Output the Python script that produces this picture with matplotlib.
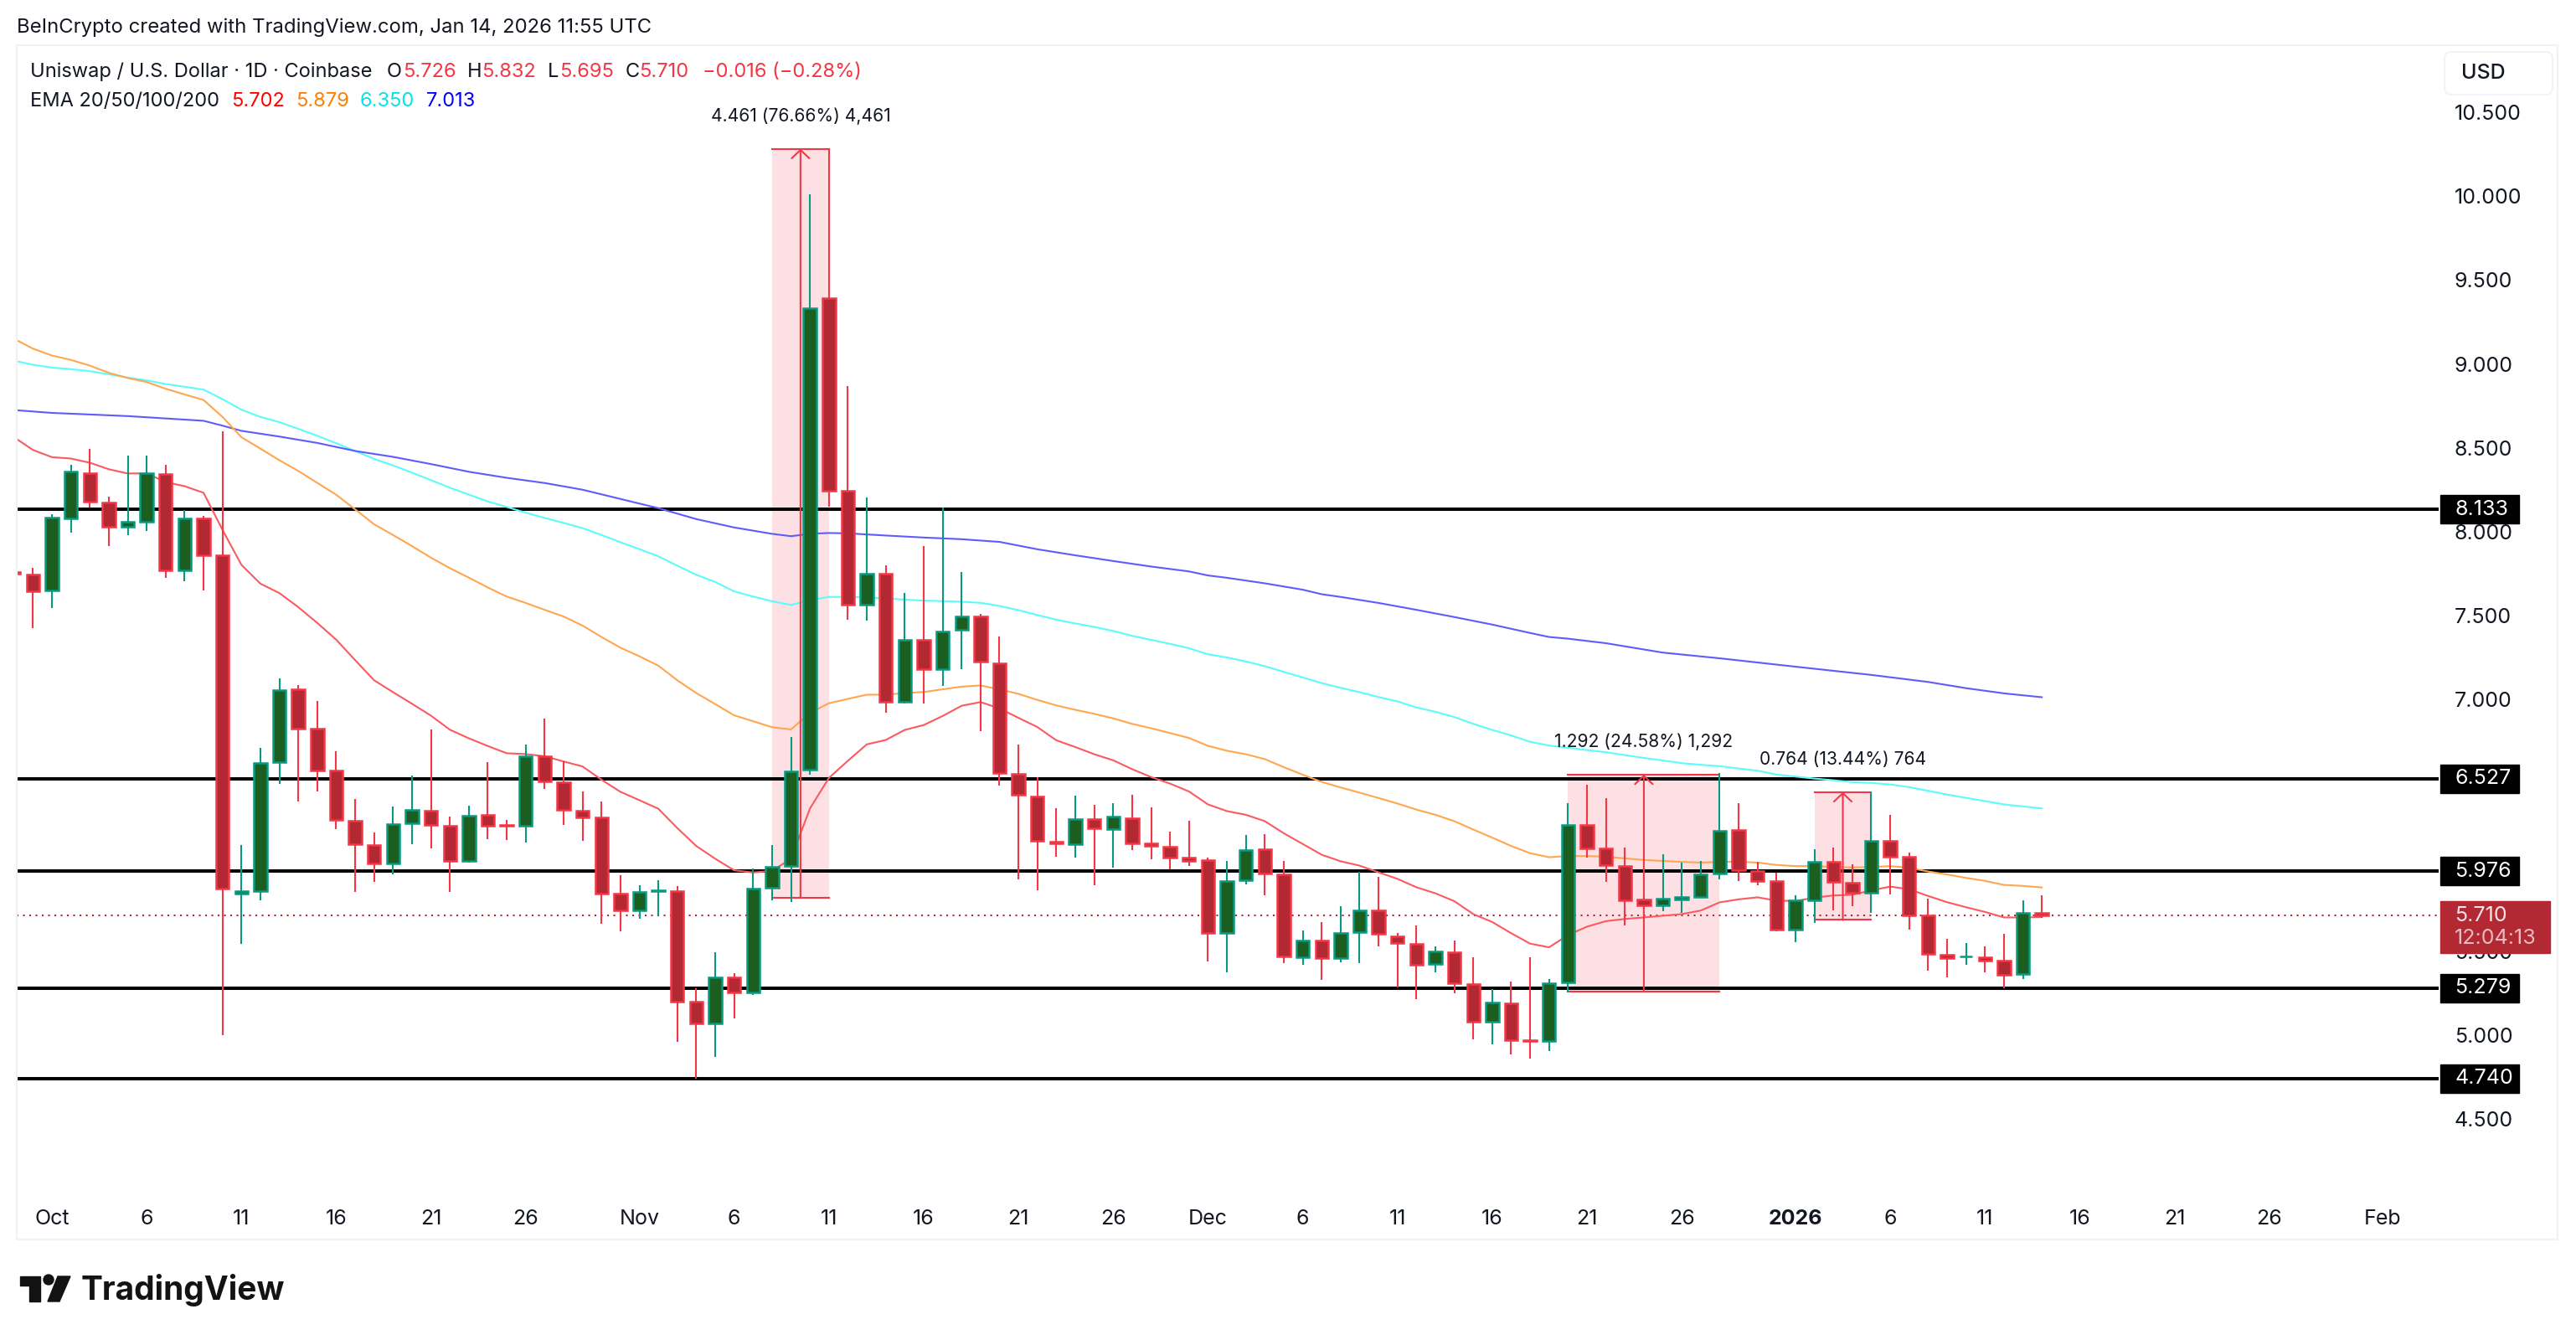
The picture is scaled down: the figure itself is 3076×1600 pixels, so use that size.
import matplotlib
matplotlib.use('Agg')
import matplotlib.pyplot as plt
from matplotlib.patches import Rectangle, Polygon, Circle, FancyBboxPatch

plt.rcParams['font.family'] = ['Inter', 'DejaVu Sans']

W, H = 3076, 1600

# daily candles, day 0 = Oct 1 2025
days = list(range(-2, 106))
opens = [7.760, 7.743, 7.649, 8.080, 8.350, 8.174, 8.029, 8.059, 8.342, 7.769,
         8.077, 7.860, 5.843, 5.859, 6.625, 7.058, 6.824, 6.574, 6.274, 6.134,
         6.024, 6.261, 6.335, 6.248, 6.037, 6.309, 6.253, 6.246, 6.661, 6.508,
         6.335, 6.294, 5.841, 5.744, 5.859, 5.856, 5.196, 5.069, 5.342, 5.255,
         5.876, 6.006, 6.579, 9.391, 8.245, 7.567, 7.748, 6.987, 7.353, 7.178,
         7.417, 7.493, 7.213, 6.557, 6.420, 6.153, 6.137, 6.288, 6.226, 6.291,
         6.140, 6.121, 6.057, 6.040, 5.608, 5.921, 6.105, 5.957, 5.463, 5.563,
         5.458, 5.613, 5.742, 5.589, 5.544, 5.422, 5.494, 5.303, 5.076, 5.188,
         4.969, 4.961, 5.312, 6.254, 6.114, 6.009, 5.805, 5.771, 5.806, 5.823,
         5.961, 6.224, 5.979, 5.916, 5.628, 5.801, 6.034, 5.909, 5.846, 6.159,
         6.064, 5.710, 5.480, 5.467, 5.462, 5.442, 5.362, 5.726]
closes = [7.750, 7.644, 8.082, 8.357, 8.179, 8.029, 8.057, 8.347, 7.769, 8.077,
          7.858, 5.871, 5.859, 6.620, 7.053, 6.826, 6.577, 6.281, 6.136, 6.024,
          6.258, 6.340, 6.251, 6.037, 6.307, 6.246, 6.248, 6.661, 6.511, 6.343,
          6.297, 5.843, 5.744, 5.853, 5.861, 5.199, 5.069, 5.344, 5.252, 5.871,
          6.001, 6.572, 9.333, 8.244, 7.567, 7.748, 6.987, 7.353, 7.178, 7.404,
          7.493, 7.223, 6.563, 6.430, 6.159, 6.143, 6.287, 6.231, 6.303, 6.140,
          6.126, 6.059, 6.038, 5.608, 5.918, 6.102, 5.961, 5.467, 5.563, 5.458,
          5.608, 5.742, 5.603, 5.549, 5.420, 5.498, 5.307, 5.076, 5.193, 4.966,
          4.961, 5.310, 6.254, 6.111, 6.011, 5.801, 5.771, 5.810, 5.821, 5.959,
          6.219, 5.983, 5.916, 5.628, 5.800, 6.034, 5.911, 5.848, 6.159, 6.064,
          5.711, 5.483, 5.457, 5.470, 5.442, 5.357, 5.725, 5.710]
highs = [7.765, 7.782, 8.103, 8.398, 8.495, 8.209, 8.454, 8.454, 8.398, 8.130,
         8.092, 8.597, 6.131, 6.712, 7.124, 7.086, 6.989, 6.691, 6.406, 6.207,
         6.360, 6.546, 6.821, 6.299, 6.365, 6.625, 6.281, 6.732, 6.885, 6.630,
         6.452, 6.393, 5.953, 5.892, 5.922, 5.887, 5.280, 5.492, 5.367, 5.994,
         6.134, 6.778, 10.012, 10.28, 8.869, 8.203, 7.799, 7.637, 7.914, 8.146,
         7.761, 7.512, 7.375, 6.732, 6.538, 6.353, 6.427, 6.372, 6.381, 6.432,
         6.355, 6.212, 6.276, 6.055, 6.038, 6.191, 6.198, 6.038, 5.622, 5.673,
         5.768, 5.971, 5.942, 5.606, 5.654, 5.527, 5.563, 5.463, 5.272, 5.319,
         5.463, 5.334, 6.382, 6.492, 6.412, 6.116, 5.828, 6.077, 6.027, 6.037,
         6.560, 6.382, 6.032, 5.968, 5.831, 6.107, 6.116, 6.016, 6.448, 6.312,
         6.087, 5.813, 5.573, 5.548, 5.528, 5.602, 5.803, 5.832]
lows = [7.745, 7.425, 7.547, 7.995, 8.143, 7.914, 7.978, 8.006, 7.723, 7.703,
        7.649, 5.000, 5.545, 5.800, 6.498, 6.393, 6.449, 6.225, 5.851, 5.910,
        5.955, 6.139, 6.113, 5.851, 6.027, 6.167, 6.162, 6.146, 6.467, 6.251,
        6.157, 5.662, 5.617, 5.690, 5.713, 4.959, 4.738, 4.870, 5.100, 5.240,
        5.803, 5.792, 6.550, 8.149, 7.477, 7.468, 6.923, 6.974, 6.974, 7.079,
        7.178, 6.812, 6.484, 5.927, 5.860, 6.060, 6.057, 5.890, 5.995, 6.100,
        6.047, 5.988, 6.007, 5.439, 5.372, 5.899, 5.833, 5.429, 5.420, 5.327,
        5.432, 5.427, 5.529, 5.284, 5.212, 5.374, 5.250, 4.971, 4.942, 4.883,
        4.856, 4.902, 5.255, 6.057, 5.914, 5.653, 5.753, 5.738, 5.728, 5.819,
        5.928, 5.918, 5.894, 5.615, 5.553, 5.665, 5.743, 5.768, 5.728, 5.838,
        5.628, 5.384, 5.345, 5.418, 5.374, 5.279, 5.334, 5.695]

ema20 = [8.563, 8.487, 8.444, 8.436, 8.411, 8.372, 8.347, 8.347, 8.296, 8.271,
         8.232, 8.011, 7.802, 7.690, 7.634, 7.550, 7.456, 7.356, 7.234, 7.114,
         7.043, 6.974, 6.903, 6.819, 6.768, 6.722, 6.679, 6.674, 6.661, 6.630,
         6.600, 6.521, 6.449, 6.399, 6.348, 6.233, 6.126, 6.050, 5.981, 5.968,
         5.978, 6.050, 6.350, 6.532, 6.634, 6.732, 6.758, 6.818, 6.847, 6.901,
         6.962, 6.984, 6.946, 6.890, 6.835, 6.756, 6.716, 6.673, 6.637, 6.584,
         6.537, 6.498, 6.451, 6.374, 6.334, 6.312, 6.274, 6.202, 6.138, 6.074,
         6.035, 6.009, 5.969, 5.930, 5.880, 5.844, 5.797, 5.720, 5.673, 5.606,
         5.544, 5.522, 5.595, 5.645, 5.678, 5.691, 5.700, 5.710, 5.720, 5.741,
         5.790, 5.808, 5.820, 5.800, 5.798, 5.818, 5.831, 5.835, 5.861, 5.884,
         5.868, 5.828, 5.791, 5.761, 5.733, 5.700, 5.700, 5.702]
ema50 = [9.150, 9.091, 9.050, 9.024, 8.990, 8.947, 8.916, 8.892, 8.852, 8.818,
         8.785, 8.684, 8.563, 8.495, 8.426, 8.362, 8.291, 8.220, 8.133, 8.044,
         7.980, 7.914, 7.845, 7.782, 7.726, 7.667, 7.613, 7.575, 7.534, 7.494,
         7.440, 7.372, 7.308, 7.257, 7.201, 7.114, 7.038, 6.972, 6.905, 6.870,
         6.834, 6.821, 6.920, 6.977, 7.003, 7.028, 7.028, 7.038, 7.044, 7.060,
         7.076, 7.083, 7.060, 7.033, 6.997, 6.964, 6.938, 6.914, 6.887, 6.854,
         6.828, 6.799, 6.770, 6.723, 6.694, 6.673, 6.644, 6.596, 6.551, 6.508,
         6.475, 6.444, 6.412, 6.379, 6.343, 6.312, 6.274, 6.224, 6.176, 6.126,
         6.083, 6.059, 6.066, 6.066, 6.062, 6.052, 6.043, 6.037, 6.031, 6.027,
         6.031, 6.032, 6.027, 6.013, 6.006, 6.006, 6.001, 5.998, 6.001, 6.006,
         5.996, 5.974, 5.956, 5.936, 5.918, 5.894, 5.888, 5.879]
ema100 = [9.019, 8.995, 8.978, 8.969, 8.957, 8.938, 8.919, 8.902, 8.880, 8.864,
          8.847, 8.790, 8.727, 8.684, 8.653, 8.613, 8.572, 8.527, 8.481, 8.434,
          8.395, 8.352, 8.307, 8.262, 8.221, 8.180, 8.147, 8.113, 8.082, 8.052,
          8.021, 7.980, 7.937, 7.896, 7.853, 7.797, 7.743, 7.700, 7.644, 7.613,
          7.585, 7.563, 7.592, 7.611, 7.611, 7.608, 7.602, 7.595, 7.589, 7.586,
          7.582, 7.576, 7.557, 7.532, 7.503, 7.475, 7.453, 7.432, 7.408, 7.379,
          7.355, 7.331, 7.305, 7.269, 7.250, 7.226, 7.198, 7.164, 7.131, 7.097,
          7.069, 7.043, 7.014, 6.988, 6.952, 6.926, 6.895, 6.854, 6.818, 6.785,
          6.747, 6.725, 6.711, 6.698, 6.685, 6.668, 6.651, 6.636, 6.620, 6.610,
          6.602, 6.588, 6.575, 6.552, 6.540, 6.528, 6.518, 6.507, 6.502, 6.493,
          6.477, 6.455, 6.433, 6.413, 6.394, 6.374, 6.362, 6.350]
ema200_days = [-2, 0, 4, 8, 9, 10, 11, 12, 14, 16, 18, 20, 22, 24, 26, 28, 30, 32, 34, 36,
               38, 39, 40, 41, 42, 44, 46, 48, 50, 52, 54, 56, 58, 60, 61, 62, 64, 66, 67, 68,
               70, 72, 74, 76, 78, 79, 80, 82, 85, 88, 92, 96, 99, 101, 103, 105]
ema200 = [8.725, 8.708, 8.689, 8.661, 8.632, 8.601, 8.584, 8.567, 8.529, 8.481,
          8.446, 8.403, 8.357, 8.321, 8.290, 8.250, 8.195, 8.140, 8.075, 8.025,
          7.987, 7.973, 7.987, 7.992, 7.990, 7.977, 7.965, 7.955, 7.939, 7.895,
          7.859, 7.825, 7.792, 7.763, 7.739, 7.725, 7.692, 7.654, 7.627, 7.611,
          7.575, 7.534, 7.491, 7.446, 7.396, 7.372, 7.362, 7.335, 7.279, 7.245,
          7.195, 7.146, 7.104, 7.067, 7.036, 7.013]

levels = [8.133, 6.527, 5.976, 5.279, 4.740]
last_price = 5.710

# measure tools: left day, right day, low, high, label
measures = [(38, 41, 5.818, 10.283, '4.461 (76.66%) 4,461'),
            (80, 88, 5.259, 6.552, '1.292 (24.58%) 1,292'),
            (93, 96, 5.685, 6.448, '0.764 (13.44%) 764')]

# 6.000 and 6.500 sit fully behind the level boxes
price_ticks = [4.5, 5.0, 5.5, 7.0, 7.5, 8.0, 8.5, 9.0, 9.5, 10.0, 10.5]
time_ticks = [0, 5, 10, 15, 20, 25, 31, 36, 41, 46, 51, 56, 61, 66, 71, 76, 81, 86, 92, 97, 102, 107, 112, 117, 123]
time_labels = ['Oct', '6', '11', '16', '21', '26', 'Nov', '6', '11', '16', '21', '26', 'Dec',
               '6', '11', '16', '21', '26', '2026', '6', '11', '16', '21', '26', 'Feb']

UP_EDGE = '#089981'
UP_FILL = '#1b5e20'
DOWN_EDGE = '#f23645'
DOWN_FILL = '#b22833'
TEXT = '#131722'
AXIS_SIZE = 18


def fx(x):
    return x / W


def fy(y):
    return 1 - y / H


fig = plt.figure(figsize=(W / 100, H / 100), dpi=100, facecolor='white')
ax = fig.add_axes([fx(20), fy(1480), fx(2892), 1426 / H])
ax.set_xlim(-1.856, 125.94)
ax.set_ylim(3.780, 10.900)
for s in ax.spines.values():
    s.set_visible(False)

# pane frame
fig.add_artist(Rectangle((fx(20), fy(1480)), fx(3034), 1426 / H, transform=fig.transFigure,
                         fill=False, ec='#f1f2f4', lw=1.6))

# measure fills
for left, right, low, high, label in measures:
    ax.fill_between([left, right], low, high, color='#fde0e3', lw=0, zorder=1)

for lv in levels:
    ax.axhline(lv, color='black', lw=2.9, zorder=2)

ax.axhline(last_price, color=DOWN_FILL, lw=1.5, ls=(0, (1, 2.6)), zorder=2.2)

ax.plot(days, ema100, color='#5dfbfb', lw=1.5, zorder=3)
ax.plot(ema200_days, ema200, color='#5f5cfb', lw=1.5, zorder=3)
ax.plot(days, ema50, color='#ffa64f', lw=1.5, zorder=3)
ax.plot(days, ema20, color='#fb5a60', lw=1.5, zorder=3)

# measure lines and arrows
for left, right, low, high, label in measures:
    mid = (left + right) / 2
    ax.plot([left, right], [high, high], color=DOWN_EDGE, lw=1.5, zorder=3.5)
    ax.plot([left, right], [low, low], color=DOWN_EDGE, lw=1.5, zorder=3.5)
    ax.annotate('', xy=(mid, high), xytext=(mid, low), zorder=3.5,
                arrowprops=dict(arrowstyle='->,head_length=0.36,head_width=0.38', color=DOWN_EDGE,
                                lw=1.5, shrinkA=0, shrinkB=0, mutation_scale=20))
    ax.annotate(label, xy=(mid, high), xytext=(0, 28), textcoords='offset points', ha='center',
                va='center', fontsize=15.2, color=TEXT, zorder=7)

# candles
edge_colors = [UP_EDGE if c >= o else DOWN_EDGE for o, c in zip(opens, closes)]
fill_colors = [UP_FILL if c >= o else DOWN_FILL for o, c in zip(opens, closes)]
bottoms = [min(o, c) for o, c in zip(opens, closes)]
heights = [abs(o - c) for o, c in zip(opens, closes)]
ax.vlines(days, lows, highs, colors=edge_colors, lw=1.5, zorder=4)
ax.bar(days, heights, bottom=bottoms, width=0.68, color=fill_colors, edgecolor=edge_colors,
       linewidth=1.8, zorder=5)

# axes labels
ax.yaxis.tick_right()
ax.set_yticks(price_ticks)
ax.set_yticklabels(['%.3f' % t for t in price_ticks])
ax.tick_params(axis='y', length=0, pad=13.5, labelsize=AXIS_SIZE, labelcolor=TEXT)
ax.set_xticks(time_ticks)
ax.set_xticklabels(time_labels)
ax.tick_params(axis='x', length=0, direction='in', pad=-26, labelsize=AXIS_SIZE, labelcolor=TEXT)
for t, lab in zip(ax.get_xticklabels(), time_labels):
    if lab == '2026':
        t.set_fontweight('bold')
ax.set_axisbelow(True)

# price boxes on the right of the pane
yt = ax.get_yaxis_transform()
for lv in levels:
    ax.add_patch(Rectangle((1.0007, lv - 0.085), 0.0325, 0.17, transform=yt, color='black',
                           clip_on=False, zorder=6))
    ax.text(1.0066, lv, '%.3f' % lv, transform=yt, color='white', fontsize=AXIS_SIZE, va='center',
            ha='left', zorder=7, clip_on=False)
ax.add_patch(Rectangle((1.0007, 5.490), 0.0453, 0.305, transform=yt, color=DOWN_FILL,
                       clip_on=False, zorder=6))
ax.text(1.0066, last_price, '%.3f' % last_price, transform=yt, color='#f7e3e5', fontsize=AXIS_SIZE,
        va='center', ha='left', zorder=7, clip_on=False)
ax.text(1.0066, 5.575, '12:04:13', transform=yt, color='#e8bcc0', fontsize=AXIS_SIZE, va='center',
        ha='left', zorder=7, clip_on=False)

# currency button
fig.add_artist(FancyBboxPatch((2921, H - 111), 125, 47, boxstyle='round,pad=2,rounding_size=8',
                              fc='white', ec='#f0f3fa', lw=1.4, transform=None))
fig.text(fx(2939), fy(87), 'USD', fontsize=AXIS_SIZE, color=TEXT, va='center', ha='left', fontweight='medium')

# header
fig.text(fx(20), fy(33), 'BeInCrypto created with TradingView.com, Jan 14, 2026 11:55 UTC',
         fontsize=17.2, color=TEXT, va='center')

row1 = [(36.5, 'Uniswap / U.S. Dollar · 1D · Coinbase', TEXT), (462, 'O', TEXT), (481, '5.726', DOWN_EDGE),
        (558, 'H', TEXT), (575, '5.832', DOWN_EDGE), (654, 'L', TEXT), (668, '5.695', DOWN_EDGE),
        (747, 'C', TEXT), (763.5, '5.710', DOWN_EDGE), (839, '−0.016 (−0.28%)', DOWN_EDGE)]
for x, s, c in row1:
    fig.text(fx(x), fy(86), s, fontsize=17, color=c, va='center')
row2 = [(36.5, 'EMA 20/50/100/200', TEXT), (276, '5.702', '#ff0000'), (353, '5.879', '#ff7f00'),
        (430, '6.350', '#00e5e5'), (509, '7.013', '#0000ff')]
for x, s, c in row2:
    fig.text(fx(x), fy(121), s, fontsize=17, color=c, va='center')

# TradingView logo
LOGO = '#131313'
fig.add_artist(Polygon([(fx(24), fy(1524)), (fx(48), fy(1524)), (fx(48), fy(1554)), (fx(35), fy(1554)),
                        (fx(35), fy(1535)), (fx(24), fy(1535))], closed=True, color=LOGO,
                       transform=fig.transFigure))
fig.add_artist(Polygon([(fx(69), fy(1524)), (fx(84), fy(1524)), (fx(71), fy(1554)), (fx(57), fy(1554))],
                       closed=True, color=LOGO, transform=fig.transFigure))
fig.add_artist(Circle((58, H - 1528), 6, color=LOGO, transform=None))
fig.text(fx(97), fy(1540), 'TradingView', fontsize=28, fontweight='bold', color=LOGO, va='center')

fig.savefig('out.png', dpi=100)
